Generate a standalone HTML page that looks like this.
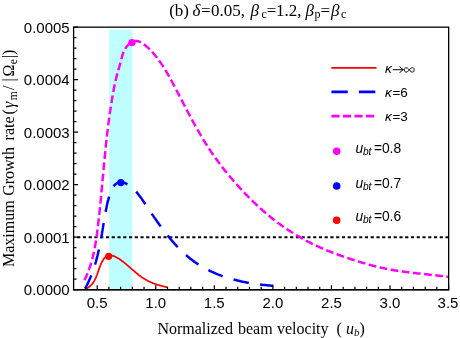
<!DOCTYPE html>
<html><head><meta charset="utf-8"><title>chart</title>
<style>
html,body{margin:0;padding:0;background:#fff;}
body{width:460px;height:338px;overflow:hidden;}
svg{display:block;will-change:transform;}
.sans{font-family:"Liberation Sans",sans-serif;font-size:15px;fill:#000;}
.serif{font-family:"Liberation Serif",serif;font-size:15.7px;fill:#000;}
.it{font-style:italic;}
</style></head><body>
<svg width="460" height="338" viewBox="0 0 460 338">
<rect width="460" height="338" fill="#fff"/>
<rect x="109.2" y="29.5" width="23.2" height="259.7" fill="#bfffff"/>
<path d="M73.6 237.3 H448.65" stroke="#000" stroke-width="1.9" stroke-dasharray="3.1 2.655" stroke-dashoffset="2.17" fill="none"/>
<path d="M85.4 289.2 L86.4 288.7 L87.3 288.2 L88.2 287.6 L89.0 287.0 L89.8 286.4 L90.5 285.7 L91.2 285.0 L91.9 284.3 L92.5 283.5 L93.0 282.7 L93.6 281.9 L94.1 281.1 L94.6 280.2 L95.0 279.4 L95.4 278.5 L95.9 277.6 L96.2 276.7 L96.6 275.7 L97.0 274.8 L97.4 273.8 L97.7 272.8 L98.0 271.8 L98.4 270.9 L98.7 269.9 L99.1 268.9 L99.4 267.9 L99.8 266.9 L100.2 266.0 L100.5 265.0 L100.9 264.1 L101.4 263.1 L101.8 262.2 L102.3 261.3 L102.8 260.5 L103.3 259.6 L103.8 258.8 L104.4 258.1 L105.1 257.4 L105.8 256.8 L106.6 256.3 L107.5 255.8 L108.4 255.5 L109.3 255.4 L110.2 255.3 L111.1 255.4 L112.0 255.5 L113.0 255.8 L113.9 256.1 L114.9 256.5 L115.8 257.0 L116.7 257.5 L117.6 258.0 L118.5 258.6 L119.4 259.1 L120.3 259.7 L121.2 260.3 L122.0 261.0 L122.9 261.6 L123.7 262.2 L124.5 262.9 L125.3 263.5 L126.1 264.2 L126.8 264.8 L127.6 265.5 L128.4 266.1 L129.1 266.8 L129.9 267.4 L130.6 268.1 L131.4 268.8 L132.1 269.4 L132.9 270.1 L133.6 270.7 L134.4 271.4 L135.1 272.0 L135.9 272.7 L136.6 273.3 L137.4 273.9 L138.2 274.5 L138.9 275.1 L139.7 275.7 L140.5 276.3 L141.3 276.9 L142.1 277.5 L143.0 278.0 L143.8 278.5 L144.7 279.1 L145.6 279.6 L146.4 280.0 L147.3 280.5 L148.2 281.0 L149.2 281.4 L150.1 281.9 L151.0 282.3 L152.0 282.7 L152.9 283.1 L153.9 283.5 L154.8 283.8 L155.8 284.2 L156.8 284.5 L157.7 284.8 L158.7 285.1 L159.7 285.4 L160.7 285.7 L161.6 286.0 L162.6 286.2 L163.6 286.5 L164.5 286.7 L165.5 286.9 L166.5 287.1 L167.4 287.3" stroke="#ff0000" stroke-width="1.75" fill="none" stroke-linejoin="round"/>
<path d="M85.1 288.6 L85.6 287.7 L86.1 286.8 L86.5 285.9 L87.0 285.0 L87.4 284.1 L87.9 283.2 L88.3 282.3 L88.7 281.4 L89.1 280.5 L89.5 279.6 L89.9 278.7 L90.3 277.8 L90.7 276.8 L91.1 275.9 L91.4 275.0 L91.8 274.1 L92.2 273.1 L92.5 272.2 L92.8 271.3 L93.2 270.3 L93.5 269.4 L93.8 268.4 L94.1 267.5 L94.4 266.5 L94.7 265.6 L95.0 264.6 L95.3 263.7 L95.6 262.7 L95.9 261.8 L96.1 260.8 L96.4 259.9 L96.6 258.9 L96.9 257.9 L97.1 257.0 L97.4 256.0 L97.6 255.0 L97.9 254.1 L98.1 253.1 L98.3 252.1 L98.5 251.1 L98.8 250.2 L99.0 249.2 L99.2 248.2 L99.4 247.2 L99.6 246.2 L99.8 245.2 L100.0 244.3 L100.2 243.3 L100.4 242.3 L100.6 241.3 L100.7 240.3 L100.9 239.3 L101.1 238.3 L101.3 237.4 L101.5 236.4 L101.6 235.4 L101.8 234.4 L102.0 233.4 L102.1 232.4 L102.3 231.4 L102.5 230.4 L102.6 229.4 L102.8 228.4 L103.0 227.4 L103.1 226.4 L103.3 225.5 L103.4 224.5 L103.6 223.5 L103.8 222.5 L103.9 221.5 L104.1 220.5 L104.3 219.5 L104.4 218.6 L104.6 217.6 L104.8 216.6 L104.9 215.6 L105.1 214.7 L105.3 213.7 L105.4 212.7 L105.6 211.8 L105.8 210.8 L106.0 209.9 L106.2 208.9 L106.4 208.0 L106.6 207.0 L106.8 206.1 L107.0 205.1 L107.2 204.1 L107.4 203.2 L107.6 202.2 L107.9 201.2 L108.1 200.3 L108.4 199.3 L108.6 198.3 L108.9 197.3 L109.2 196.3 L109.5 195.2 L109.8 194.2 L110.2 193.2 L110.5 192.1 L110.9 191.1 L111.3 190.1 L111.8 189.2 L112.3 188.2 L112.8 187.4 L113.4 186.5 L114.0 185.7 L114.7 185.0 L115.4 184.3 L116.2 183.7 L117.0 183.2 L117.8 182.8 L118.7 182.5 L119.6 182.2 L120.5 182.1 L121.5 182.2 L122.4 182.3 L123.3 182.5 L124.3 182.8 L125.2 183.2 L126.1 183.7 L127.0 184.2 L127.9 184.7 L128.7 185.2 L129.6 185.8 L130.4 186.4 L131.1 187.0 L131.9 187.6 L132.7 188.2 L133.4 188.9 L134.1 189.6 L134.8 190.2 L135.5 190.9 L136.1 191.7 L136.8 192.4 L137.4 193.1 L138.0 193.9 L138.6 194.7 L139.2 195.4 L139.8 196.2 L140.4 197.0 L141.0 197.8 L141.6 198.6 L142.1 199.4 L142.7 200.3 L143.3 201.1 L143.8 201.9 L144.4 202.7 L144.9 203.6 L145.5 204.4 L146.0 205.2 L146.6 206.1 L147.1 206.9 L147.7 207.7 L148.3 208.6 L148.8 209.4 L149.4 210.2 L150.0 211.1 L150.5 211.9 L151.1 212.8 L151.7 213.6 L152.2 214.4 L152.8 215.3 L153.4 216.1 L153.9 216.9 L154.5 217.8 L155.1 218.6 L155.7 219.4 L156.3 220.3 L156.8 221.1 L157.4 221.9 L158.0 222.7 L158.6 223.6 L159.2 224.4 L159.8 225.2 L160.4 226.0 L161.0 226.8 L161.6 227.7 L162.2 228.5 L162.8 229.3 L163.4 230.1 L164.0 230.9 L164.6 231.7 L165.2 232.5 L165.9 233.3 L166.5 234.1 L167.1 234.9 L167.8 235.7 L168.4 236.4 L169.0 237.2 L169.7 238.0 L170.3 238.8 L171.0 239.5 L171.6 240.3 L172.3 241.1 L172.9 241.8 L173.6 242.6 L174.2 243.3 L174.9 244.1 L175.6 244.8 L176.3 245.5 L177.0 246.3 L177.6 247.0 L178.3 247.7 L179.0 248.4 L179.7 249.1 L180.4 249.8 L181.1 250.5 L181.8 251.2 L182.6 251.9 L183.3 252.6 L184.0 253.3 L184.7 253.9 L185.5 254.6 L186.2 255.2 L187.0 255.9 L187.7 256.5 L188.5 257.2 L189.2 257.8 L190.0 258.4 L190.8 259.0 L191.5 259.6 L192.3 260.2 L193.1 260.8 L193.9 261.4 L194.7 262.0 L195.5 262.5 L196.3 263.1 L197.1 263.7 L198.0 264.2 L198.8 264.7 L199.6 265.3 L200.5 265.8 L201.3 266.3 L202.2 266.8 L203.0 267.3 L203.9 267.8 L204.8 268.3 L205.6 268.7 L206.5 269.2 L207.4 269.7 L208.3 270.1 L209.2 270.5 L210.1 271.0 L211.0 271.4 L211.9 271.8 L212.8 272.2 L213.7 272.6 L214.6 273.0 L215.5 273.4 L216.5 273.8 L217.4 274.2 L218.3 274.6 L219.3 274.9 L220.2 275.3 L221.2 275.6 L222.1 276.0 L223.0 276.3 L224.0 276.6 L225.0 276.9 L225.9 277.3 L226.9 277.6 L227.8 277.9 L228.8 278.2 L229.8 278.5 L230.8 278.7 L231.7 279.0 L232.7 279.3 L233.7 279.6 L234.7 279.8 L235.6 280.1 L236.6 280.3 L237.6 280.6 L238.6 280.8 L239.6 281.0 L240.6 281.2 L241.6 281.5 L242.6 281.7 L243.5 281.9 L244.5 282.1 L245.5 282.3 L246.5 282.5 L247.5 282.7 L248.5 282.8 L249.5 283.0 L250.5 283.2 L251.5 283.3 L252.5 283.5 L253.5 283.7 L254.5 283.8 L255.5 284.0 L256.5 284.1 L257.5 284.2 L258.5 284.4 L259.5 284.5 L260.4 284.6 L261.4 284.7 L262.4 284.8 L263.4 284.9 L264.4 285.0 L265.4 285.1 L266.4 285.2 L267.3 285.3 L268.3 285.4 L269.3 285.5 L270.3 285.6 L271.3 285.7 L272.2 285.7 L273.2 285.8" stroke="#0000ff" stroke-width="2.5" fill="none" stroke-dasharray="15.6 11.4" stroke-dashoffset="1" stroke-linejoin="round"/>
<path d="M84.4 280.3 L84.8 279.4 L85.3 278.5 L85.7 277.6 L86.1 276.7 L86.5 275.7 L86.9 274.8 L87.3 273.9 L87.7 273.0 L88.0 272.0 L88.4 271.1 L88.7 270.2 L89.1 269.2 L89.4 268.3 L89.7 267.4 L90.1 266.4 L90.4 265.5 L90.7 264.5 L91.0 263.6 L91.2 262.6 L91.5 261.6 L91.8 260.7 L92.0 259.7 L92.3 258.8 L92.5 257.8 L92.8 256.8 L93.0 255.9 L93.3 254.9 L93.5 253.9 L93.7 252.9 L93.9 252.0 L94.1 251.0 L94.3 250.0 L94.5 249.0 L94.7 248.0 L94.9 247.1 L95.1 246.1 L95.2 245.1 L95.4 244.1 L95.6 243.1 L95.8 242.1 L95.9 241.1 L96.1 240.1 L96.2 239.1 L96.4 238.2 L96.5 237.2 L96.7 236.2 L96.8 235.2 L96.9 234.2 L97.1 233.2 L97.2 232.2 L97.3 231.2 L97.4 230.2 L97.6 229.2 L97.7 228.2 L97.8 227.2 L97.9 226.2 L98.0 225.2 L98.2 224.2 L98.3 223.2 L98.4 222.2 L98.5 221.2 L98.6 220.2 L98.7 219.2 L98.8 218.2 L98.9 217.2 L99.1 216.2 L99.2 215.2 L99.3 214.2 L99.4 213.2 L99.5 212.2 L99.6 211.2 L99.7 210.2 L99.8 209.3 L99.9 208.3 L100.0 207.3 L100.1 206.3 L100.2 205.3 L100.3 204.3 L100.4 203.3 L100.5 202.3 L100.6 201.3 L100.7 200.3 L100.8 199.3 L100.9 198.3 L101.0 197.3 L101.1 196.3 L101.2 195.3 L101.2 194.3 L101.3 193.3 L101.4 192.3 L101.5 191.3 L101.6 190.3 L101.7 189.4 L101.8 188.4 L101.9 187.4 L102.0 186.4 L102.1 185.4 L102.2 184.4 L102.3 183.4 L102.4 182.4 L102.5 181.4 L102.5 180.4 L102.6 179.4 L102.7 178.4 L102.8 177.4 L102.9 176.4 L103.0 175.4 L103.1 174.5 L103.2 173.5 L103.3 172.5 L103.4 171.5 L103.5 170.5 L103.6 169.5 L103.6 168.5 L103.7 167.5 L103.8 166.5 L103.9 165.5 L104.0 164.5 L104.1 163.5 L104.2 162.5 L104.3 161.5 L104.4 160.5 L104.5 159.6 L104.6 158.6 L104.7 157.6 L104.8 156.6 L104.9 155.6 L105.0 154.6 L105.1 153.6 L105.2 152.6 L105.3 151.6 L105.4 150.6 L105.5 149.6 L105.6 148.6 L105.7 147.6 L105.8 146.6 L105.9 145.7 L106.0 144.7 L106.1 143.7 L106.2 142.7 L106.3 141.7 L106.4 140.7 L106.5 139.7 L106.6 138.7 L106.8 137.7 L106.9 136.7 L107.0 135.7 L107.1 134.7 L107.2 133.7 L107.3 132.7 L107.4 131.7 L107.6 130.8 L107.7 129.8 L107.8 128.8 L107.9 127.8 L108.0 126.8 L108.2 125.8 L108.3 124.8 L108.4 123.8 L108.5 122.8 L108.7 121.8 L108.8 120.8 L108.9 119.8 L109.1 118.8 L109.2 117.8 L109.3 116.8 L109.5 115.8 L109.6 114.8 L109.7 113.9 L109.9 112.9 L110.0 111.9 L110.2 110.9 L110.3 109.9 L110.5 108.9 L110.6 107.9 L110.8 106.9 L110.9 105.9 L111.1 104.9 L111.2 103.9 L111.4 102.9 L111.6 101.9 L111.7 100.9 L111.9 99.9 L112.0 98.9 L112.2 97.9 L112.4 96.9 L112.6 95.9 L112.7 94.9 L112.9 93.9 L113.1 92.9 L113.3 92.0 L113.5 91.0 L113.6 90.0 L113.8 89.0 L114.0 88.0 L114.2 87.0 L114.4 86.0 L114.6 85.0 L114.9 84.0 L115.1 83.0 L115.3 82.1 L115.5 81.1 L115.7 80.1 L116.0 79.1 L116.2 78.1 L116.4 77.2 L116.7 76.2 L116.9 75.2 L117.2 74.2 L117.5 73.3 L117.7 72.3 L118.0 71.3 L118.3 70.4 L118.5 69.4 L118.8 68.5 L119.1 67.5 L119.4 66.5 L119.6 65.6 L119.9 64.6 L120.2 63.7 L120.4 62.7 L120.7 61.8 L121.0 60.9 L121.2 59.9 L121.4 59.0 L121.7 58.1 L121.9 57.1 L122.2 56.2 L122.4 55.3 L122.7 54.4 L123.0 53.5 L123.3 52.6 L123.7 51.7 L124.1 50.8 L124.6 49.9 L125.1 49.0 L125.6 48.1 L126.2 47.2 L126.9 46.3 L127.6 45.5 L128.3 44.7 L129.1 44.0 L129.9 43.4 L130.8 42.8 L131.6 42.2 L132.5 41.8 L133.4 41.5 L134.4 41.2 L135.3 41.1 L136.2 41.1 L137.1 41.1 L138.0 41.3 L138.9 41.5 L139.8 41.8 L140.6 42.2 L141.5 42.7 L142.3 43.1 L143.1 43.7 L143.9 44.3 L144.7 44.9 L145.5 45.5 L146.3 46.2 L147.0 46.9 L147.8 47.5 L148.5 48.2 L149.3 48.9 L150.0 49.7 L150.7 50.4 L151.4 51.1 L152.1 51.9 L152.8 52.6 L153.4 53.4 L154.1 54.2 L154.8 55.0 L155.4 55.7 L156.0 56.5 L156.7 57.3 L157.3 58.2 L157.9 59.0 L158.5 59.8 L159.1 60.6 L159.7 61.4 L160.3 62.3 L160.9 63.1 L161.4 63.9 L162.0 64.8 L162.6 65.6 L163.1 66.5 L163.7 67.3 L164.2 68.2 L164.7 69.0 L165.3 69.9 L165.8 70.7 L166.3 71.6 L166.8 72.5 L167.3 73.4 L167.8 74.2 L168.3 75.1 L168.8 76.0 L169.3 76.8 L169.8 77.7 L170.3 78.6 L170.8 79.5 L171.3 80.4 L171.8 81.3 L172.2 82.1 L172.7 83.0 L173.2 83.9 L173.7 84.8 L174.1 85.7 L174.6 86.6 L175.1 87.5 L175.5 88.4 L176.0 89.2 L176.4 90.1 L176.9 91.0 L177.4 91.9 L177.8 92.8 L178.3 93.7 L178.8 94.6 L179.2 95.5 L179.7 96.4 L180.1 97.2 L180.6 98.1 L181.0 99.0 L181.5 99.9 L182.0 100.8 L182.4 101.7 L182.9 102.5 L183.3 103.4 L183.8 104.3 L184.3 105.2 L184.7 106.1 L185.2 107.0 L185.6 107.8 L186.1 108.7 L186.6 109.6 L187.0 110.5 L187.5 111.4 L188.0 112.2 L188.4 113.1 L188.9 114.0 L189.4 114.9 L189.8 115.7 L190.3 116.6 L190.8 117.5 L191.2 118.4 L191.7 119.2 L192.2 120.1 L192.7 121.0 L193.1 121.8 L193.6 122.7 L194.1 123.6 L194.6 124.5 L195.0 125.3 L195.5 126.2 L196.0 127.0 L196.5 127.9 L197.0 128.8 L197.5 129.6 L198.0 130.5 L198.5 131.4 L199.0 132.2 L199.5 133.1 L200.0 133.9 L200.5 134.8 L201.0 135.6 L201.5 136.5 L202.0 137.3 L202.5 138.2 L203.0 139.0 L203.5 139.9 L204.0 140.7 L204.6 141.6 L205.1 142.4 L205.6 143.3 L206.1 144.1 L206.7 144.9 L207.2 145.8 L207.8 146.6 L208.3 147.5 L208.8 148.3 L209.4 149.1 L209.9 150.0 L210.5 150.8 L211.0 151.6 L211.6 152.5 L212.2 153.3 L212.7 154.1 L213.3 154.9 L213.9 155.7 L214.5 156.6 L215.0 157.4 L215.6 158.2 L216.2 159.0 L216.8 159.8 L217.4 160.6 L218.0 161.5 L218.6 162.3 L219.2 163.1 L219.8 163.9 L220.4 164.7 L221.0 165.5 L221.6 166.3 L222.2 167.1 L222.9 167.9 L223.5 168.7 L224.1 169.5 L224.7 170.3 L225.4 171.0 L226.0 171.8 L226.6 172.6 L227.3 173.4 L227.9 174.2 L228.6 175.0 L229.2 175.7 L229.9 176.5 L230.5 177.3 L231.2 178.1 L231.8 178.8 L232.5 179.6 L233.1 180.4 L233.8 181.1 L234.5 181.9 L235.1 182.6 L235.8 183.4 L236.5 184.2 L237.1 184.9 L237.8 185.7 L238.5 186.4 L239.2 187.2 L239.8 187.9 L240.5 188.6 L241.2 189.4 L241.9 190.1 L242.6 190.8 L243.3 191.6 L244.0 192.3 L244.6 193.0 L245.3 193.8 L246.0 194.5 L246.7 195.2 L247.4 195.9 L248.1 196.6 L248.8 197.3 L249.6 198.1 L250.3 198.8 L251.0 199.5 L251.7 200.2 L252.4 200.9 L253.1 201.6 L253.8 202.3 L254.6 202.9 L255.3 203.6 L256.0 204.3 L256.7 205.0 L257.5 205.7 L258.2 206.4 L258.9 207.0 L259.7 207.7 L260.4 208.4 L261.2 209.0 L261.9 209.7 L262.6 210.4 L263.4 211.0 L264.1 211.7 L264.9 212.3 L265.7 213.0 L266.4 213.6 L267.2 214.3 L267.9 214.9 L268.7 215.5 L269.5 216.2 L270.2 216.8 L271.0 217.4 L271.8 218.0 L272.6 218.7 L273.4 219.3 L274.1 219.9 L274.9 220.5 L275.7 221.1 L276.5 221.7 L277.3 222.3 L278.1 222.9 L278.9 223.5 L279.7 224.1 L280.5 224.7 L281.3 225.3 L282.2 225.8 L283.0 226.4 L283.8 227.0 L284.6 227.6 L285.4 228.1 L286.3 228.7 L287.1 229.2 L287.9 229.8 L288.8 230.3 L289.6 230.9 L290.5 231.4 L291.3 232.0 L292.1 232.5 L293.0 233.0 L293.8 233.6 L294.7 234.1 L295.6 234.6 L296.4 235.1 L297.3 235.7 L298.1 236.2 L299.0 236.7 L299.9 237.2 L300.8 237.7 L301.6 238.2 L302.5 238.6 L303.4 239.1 L304.3 239.6 L305.1 240.1 L306.0 240.6 L306.9 241.0 L307.8 241.5 L308.7 242.0 L309.6 242.4 L310.5 242.9 L311.4 243.3 L312.3 243.8 L313.2 244.2 L314.1 244.6 L315.0 245.1 L315.9 245.5 L316.8 245.9 L317.7 246.3 L318.6 246.7 L319.5 247.2 L320.4 247.6 L321.3 248.0 L322.2 248.4 L323.1 248.8 L324.0 249.1 L325.0 249.5 L325.9 249.9 L326.8 250.3 L327.7 250.7 L328.6 251.0 L329.6 251.4 L330.5 251.8 L331.4 252.1 L332.3 252.5 L333.3 252.9 L334.2 253.2 L335.1 253.6 L336.1 253.9 L337.0 254.3 L337.9 254.6 L338.9 255.0 L339.8 255.3 L340.7 255.6 L341.7 256.0 L342.6 256.3 L343.6 256.6 L344.5 256.9 L345.5 257.3 L346.4 257.6 L347.4 257.9 L348.3 258.2 L349.2 258.6 L350.2 258.9 L351.1 259.2 L352.1 259.5 L353.1 259.8 L354.0 260.1 L355.0 260.4 L355.9 260.7 L356.9 261.0 L357.8 261.3 L358.8 261.6 L359.7 261.9 L360.7 262.2 L361.7 262.5 L362.6 262.8 L363.6 263.1 L364.6 263.4 L365.5 263.7 L366.5 263.9 L367.5 264.2 L368.4 264.5 L369.4 264.8 L370.4 265.0 L371.3 265.3 L372.3 265.5 L373.3 265.8 L374.2 266.1 L375.2 266.3 L376.2 266.5 L377.2 266.8 L378.1 267.0 L379.1 267.3 L380.1 267.5 L381.1 267.7 L382.0 267.9 L383.0 268.1 L384.0 268.3 L385.0 268.5 L386.0 268.7 L386.9 268.9 L387.9 269.1 L388.9 269.3 L389.9 269.5 L390.9 269.7 L391.9 269.8 L392.8 270.0 L393.8 270.2 L394.8 270.4 L395.8 270.5 L396.8 270.7 L397.8 270.8 L398.8 271.0 L399.7 271.1 L400.7 271.3 L401.7 271.4 L402.7 271.5 L403.7 271.7 L404.7 271.8 L405.7 271.9 L406.7 272.1 L407.7 272.2 L408.6 272.3 L409.6 272.4 L410.6 272.6 L411.6 272.7 L412.6 272.8 L413.6 272.9 L414.6 273.0 L415.6 273.1 L416.6 273.3 L417.6 273.4 L418.6 273.5 L419.6 273.6 L420.6 273.7 L421.5 273.8 L422.5 273.9 L423.5 274.0 L424.5 274.1 L425.5 274.2 L426.5 274.3 L427.5 274.5 L428.5 274.6 L429.5 274.7 L430.5 274.8 L431.5 274.9 L432.5 275.0 L433.5 275.1 L434.5 275.2 L435.5 275.3 L436.5 275.4 L437.5 275.5 L438.5 275.7 L439.5 275.8 L440.4 275.9 L441.4 276.0 L442.4 276.1 L443.4 276.3 L444.4 276.4 L445.4 276.5 L446.4 276.6 L447.4 276.8 L448.4 276.9" stroke="#ff00ff" stroke-width="2.5" fill="none" stroke-dasharray="7.8 3.45" stroke-dashoffset="0" stroke-linejoin="round"/>
<circle cx="132" cy="42.6" r="3.7" fill="#ff00ff"/>
<circle cx="120.8" cy="182.6" r="3.6" fill="#0000ff"/>
<circle cx="108.7" cy="256.3" r="3.6" fill="#ff0000"/>
<path d="M85.49 289.65 v-2.9 M97.20 289.65 v-4.5 M108.91 289.65 v-2.9 M120.63 289.65 v-2.9 M132.34 289.65 v-2.9 M144.05 289.65 v-2.9 M155.76 289.65 v-4.5 M167.48 289.65 v-2.9 M179.19 289.65 v-2.9 M190.90 289.65 v-2.9 M202.62 289.65 v-2.9 M214.33 289.65 v-4.5 M226.04 289.65 v-2.9 M237.76 289.65 v-2.9 M249.47 289.65 v-2.9 M261.18 289.65 v-2.9 M272.89 289.65 v-4.5 M284.61 289.65 v-2.9 M296.32 289.65 v-2.9 M308.03 289.65 v-2.9 M319.75 289.65 v-2.9 M331.46 289.65 v-4.5 M343.17 289.65 v-2.9 M354.89 289.65 v-2.9 M366.60 289.65 v-2.9 M378.31 289.65 v-2.9 M390.02 289.65 v-4.5 M401.74 289.65 v-2.9 M413.45 289.65 v-2.9 M425.16 289.65 v-2.9 M436.88 289.65 v-2.9 M448.59 289.65 v-4.5 M73.6 289.65 h4.5 M73.6 279.15 h2.9 M73.6 268.65 h2.9 M73.6 258.15 h2.9 M73.6 247.65 h2.9 M73.6 237.15 h4.5 M73.6 226.65 h2.9 M73.6 216.15 h2.9 M73.6 205.65 h2.9 M73.6 195.15 h2.9 M73.6 184.65 h4.5 M73.6 174.15 h2.9 M73.6 163.65 h2.9 M73.6 153.15 h2.9 M73.6 142.65 h2.9 M73.6 132.15 h4.5 M73.6 121.65 h2.9 M73.6 111.15 h2.9 M73.6 100.65 h2.9 M73.6 90.15 h2.9 M73.6 79.65 h4.5 M73.6 69.15 h2.9 M73.6 58.65 h2.9 M73.6 48.15 h2.9 M73.6 37.65 h2.9 M73.6 27.15 h4.5" stroke="#000" stroke-width="1.2" fill="none"/>
<rect x="73.6" y="27.15" width="375.04999999999995" height="262.5" fill="none" stroke="#000" stroke-width="1.3"/>
<path d="M72.94999999999999 289.75 H449.29999999999995" stroke="#000" stroke-width="1.7"/>
<g class="sans"><text x="97.2" y="308.2" text-anchor="middle">0.5</text><text x="155.8" y="308.2" text-anchor="middle">1.0</text><text x="214.3" y="308.2" text-anchor="middle">1.5</text><text x="272.9" y="308.2" text-anchor="middle">2.0</text><text x="331.5" y="308.2" text-anchor="middle">2.5</text><text x="390.0" y="308.2" text-anchor="middle">3.0</text><text x="448.0" y="308.2" text-anchor="middle">3.5</text><text x="69.7" y="295.0" text-anchor="end">0.0000</text><text x="69.7" y="242.5" text-anchor="end">0.0001</text><text x="69.7" y="190.0" text-anchor="end">0.0002</text><text x="69.7" y="137.5" text-anchor="end">0.0003</text><text x="69.7" y="85.0" text-anchor="end">0.0004</text><text x="69.7" y="32.5" text-anchor="end">0.0005</text></g>
<!-- legend -->
<path d="M331.3 67.8 H376.5" stroke="#ff0000" stroke-width="1.7"/>
<path d="M331.4 91.9 H375.3" stroke="#0000ff" stroke-width="2.6" stroke-dasharray="16.4 11.1"/>
<path d="M331.4 116.1 H376.5" stroke="#ff00ff" stroke-width="2.6" stroke-dasharray="8.2 3.32"/>
<g class="sans" style="font-size:13.5px">
<text x="385" y="73.1" class="it">κ</text>
<path d="M392.8 69.7 H403 M399.7 66.5 Q401 68.6 403.4 69.7 Q401 70.8 399.7 72.9" stroke="#000" stroke-width="1" fill="none"/>
<path d="M409.3 69.9 C407.5 67.1 404.4 66.9 404.4 69.9 C404.4 72.9 407.5 72.7 409.3 69.9 C411.1 67.1 414.2 66.9 414.2 69.9 C414.2 72.9 411.1 72.7 409.3 69.9 Z" stroke="#000" stroke-width="0.95" fill="none"/>
<text y="96.8"><tspan x="385" class="it">κ</tspan><tspan x="392.4">=6</tspan></text>
<text y="120.9"><tspan x="385" class="it">κ</tspan><tspan x="392.4">=3</tspan></text>
<text y="152.7" style="font-size:13.8px"><tspan x="355.5" class="it">u</tspan><tspan x="362.9" class="it" font-size="10.2" dy="2">bt</tspan><tspan dy="-2" x="373.9">=0.8</tspan></text>
<text y="188.2" style="font-size:13.8px"><tspan x="355.5" class="it">u</tspan><tspan x="362.9" class="it" font-size="10.2" dy="2">bt</tspan><tspan dy="-2" x="373.9">=0.7</tspan></text>
<text y="221.4" style="font-size:13.8px"><tspan x="355.5" class="it">u</tspan><tspan x="362.9" class="it" font-size="10.2" dy="2">bt</tspan><tspan dy="-2" x="373.9">=0.6</tspan></text>
</g>
<circle cx="336.7" cy="151.3" r="3.8" fill="#ff00ff"/>
<circle cx="336.7" cy="186" r="3.8" fill="#0000ff"/>
<circle cx="336.7" cy="220.3" r="3.8" fill="#ff0000"/>
<!-- title -->
<text class="serif" style="font-size:17px" y="15.9"><tspan x="169.2">(b)</tspan><tspan x="192.6" class="it">δ</tspan><tspan x="201">=</tspan><tspan x="211">0.05,</tspan><tspan x="250.6" class="it">β</tspan><tspan x="261.4" font-size="12" dy="2.5">c</tspan><tspan dy="-2.5" x="266.8">=</tspan><tspan x="275.9">1.2,</tspan><tspan x="305.4" class="it">β</tspan><tspan x="314.4" font-size="12" dy="2.5">p</tspan><tspan dy="-2.5" x="320.4">=</tspan><tspan x="331" class="it">β</tspan><tspan x="341" font-size="12" dy="2.5">c</tspan></text>
<text class="serif" style="font-size:16px" y="333.5"><tspan x="157.4">Normalized</tspan><tspan x="238">beam</tspan><tspan x="277">velocity</tspan><tspan x="336.6">(</tspan><tspan x="346" class="it">u</tspan><tspan class="it" font-size="11" dy="2.5">b</tspan><tspan dy="-2.5" x="359.4">)</tspan></text>
<text class="serif" style="font-size:16px" transform="translate(14.2 267) rotate(-90)"><tspan x="0">Maximum</tspan><tspan x="71.2">Growth</tspan><tspan x="126.6">rate</tspan><tspan x="152.4">(</tspan><tspan x="159" class="it">γ</tspan><tspan x="166.8" font-size="11.5" dy="2.5">m</tspan><tspan dy="-2.5" x="176.9">/</tspan><tspan x="185.6">|</tspan><tspan x="190.6">Ω</tspan><tspan x="202.8" font-size="11.5" dy="2.5">e</tspan><tspan dy="-2.5" x="209">|</tspan><tspan x="212">)</tspan></text>
</svg>
</body></html>
